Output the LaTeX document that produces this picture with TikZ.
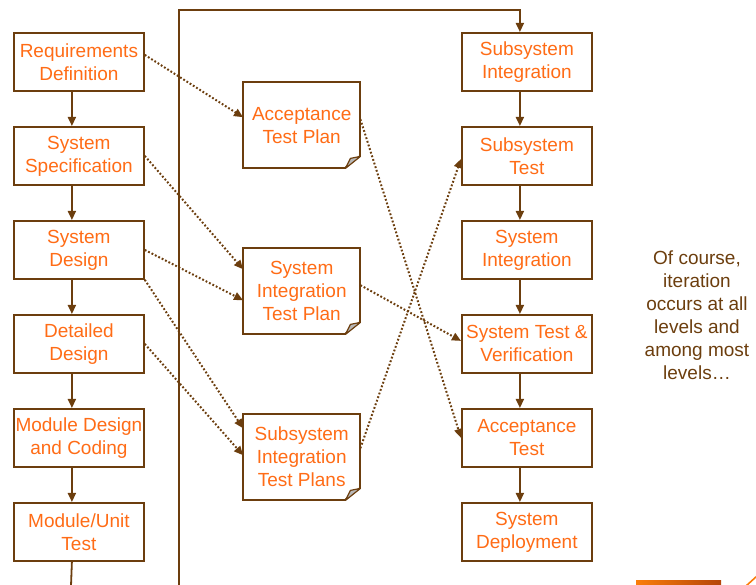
\documentclass[tikz,border=0pt]{standalone}
\usepackage{fontspec}
\setmainfont{Liberation Sans}
\usetikzlibrary{arrows.meta}
\definecolor{txtorange}{RGB}{255,108,22}
\definecolor{brn}{RGB}{108,62,14}
\definecolor{barA}{RGB}{250,125,10}
\definecolor{barB}{RGB}{180,70,10}
\begin{document}
\begin{tikzpicture}[x=1pt,y=-1pt,
  stepbox/.style={draw=brn, line width=1.8pt, fill=white, minimum width=130pt, minimum height=58pt,
    inner sep=0pt, anchor=north west, align=center, text=txtorange, font=\fontsize{19}{23}\selectfont},
  docbox/.style={minimum width=117pt, minimum height=86pt, inner sep=0pt, anchor=north west,
    align=center, text=txtorange, font=\fontsize{19}{23}\selectfont},
  docline/.style={draw=brn, line width=1.8pt, fill=white, line join=miter},
  solidarr/.style={draw=brn, line width=1.8pt, -{Triangle[length=9pt,width=8pt]}},
  plainline/.style={draw=brn, line width=1.8pt},
  dotarr/.style={draw=brn, line width=2pt, dash pattern=on 1.8pt off 2pt, -{Triangle[length=9pt,width=8pt]}},
]
\useasboundingbox (0,0) rectangle (756,585);
% loop line
\coordinate (loopb) at (179,586);
\coordinate (loopt) at (179,10);
% left column
\node[stepbox] (req) at (13,32) {Requirements\\Definition};
\node[stepbox] (sspec) at (13,126) {System\\Specification};
\node[stepbox] (sdes) at (13,220) {System\\Design};
\node[stepbox] (ddes) at (13,314) {Detailed\\Design};
\node[stepbox] (mdc) at (13,408) {Module Design\\and Coding};
\node[stepbox] (mut) at (13,502) {Module/Unit\\Test};
% right column
\node[stepbox] (ssi) at (461,32) {Subsystem\\Integration};
\node[stepbox] (sst) at (461,126) {Subsystem\\Test};
\node[stepbox] (sysi) at (461,220) {System\\Integration};
\node[stepbox] (stv) at (461,314) {System Test \&\\Verification};
\node[stepbox] (acct) at (461,408) {Acceptance\\Test};
\node[stepbox] (sdep) at (461,502) {System\\Deployment};
% middle documents
\path[docline] (243,82) -- (360,82) -- (360,156) -- (345,168) -- (243,168) -- cycle;
\path[docline] (243,248) -- (360,248) -- (360,322) -- (345,334) -- (243,334) -- cycle;
\path[docline] (243,414) -- (360,414) -- (360,488) -- (345,500) -- (243,500) -- cycle;
\node[docbox] (atp) at (243,82) {Acceptance\\Test Plan};
\node[docbox] (sitp) at (243,248) {System\\Integration\\Test Plan};
\node[docbox] (ssitp) at (243,414) {Subsystem\\Integration\\Test Plans};
\foreach \nm in {atp,sitp,ssitp}{
  \filldraw[draw=brn, fill=black!28, line width=1.2pt, line join=round]
    ([yshift=12pt]\nm.south east) -- ([xshift=-15pt]\nm.south east) -- ([xshift=-10pt,yshift=10pt]\nm.south east) -- cycle;
}
% solid arrows left
\draw[solidarr] ([xshift=-7pt]req.south) -- ([xshift=-7pt]sspec.north);
\draw[solidarr] ([xshift=-7pt]sspec.south) -- ([xshift=-7pt]sdes.north);
\draw[solidarr] ([xshift=-7pt]sdes.south) -- ([xshift=-7pt]ddes.north);
\draw[solidarr] ([xshift=-7pt]ddes.south) -- ([xshift=-7pt]mdc.north);
\draw[solidarr] ([xshift=-7pt]mdc.south) -- ([xshift=-7pt]mut.north);
\coordinate (leftend) at (71,586);
\draw[plainline] ([xshift=-7pt]mut.south) -- (leftend);
% solid arrows right
\draw[solidarr] ([xshift=-7pt]ssi.south) -- ([xshift=-7pt]sst.north);
\draw[solidarr] ([xshift=-7pt]sst.south) -- ([xshift=-7pt]sysi.north);
\draw[solidarr] ([xshift=-7pt]sysi.south) -- ([xshift=-7pt]stv.north);
\draw[solidarr] ([xshift=-7pt]stv.south) -- ([xshift=-7pt]acct.north);
\draw[solidarr] ([xshift=-7pt]acct.south) -- ([xshift=-7pt]sdep.north);
% loop
\draw[solidarr] (loopb) -- (loopt) -| ([xshift=-7pt]ssi.north);
% dotted arrows
\draw[dotarr] ([yshift=7pt]req.east) -- ([yshift=8pt]atp.west);
\draw[dotarr] (sspec.east) -- ([yshift=22pt]sitp.west);
\draw[dotarr] (sdes.east) -- ([yshift=-9pt]sitp.west);
\draw[dotarr] (sdes.south east) -- ([yshift=29pt]ssitp.west);
\draw[dotarr] (ddes.east) -- ([yshift=2pt]ssitp.west);
\draw[dotarr] ([yshift=6pt]atp.east) -- (acct.west);
\draw[dotarr] ([yshift=6pt]sitp.east) -- ([yshift=3pt]stv.west);
\draw[dotarr] ([yshift=9pt]ssitp.east) -- ([yshift=-3pt]sst.west);
% note
\node[align=center, text=brn, font=\fontsize{19}{23}\selectfont, inner sep=0pt] (note) at (697,315)
  {Of course,\\iteration\\occurs at all\\levels and\\among most\\levels…};
% decoration
\shade[left color=barA, right color=barB] (636,580) rectangle (721,585);
\draw[draw=barA, line width=1.6pt] (746,586) -- (757,576);
\end{tikzpicture}
\end{document}
